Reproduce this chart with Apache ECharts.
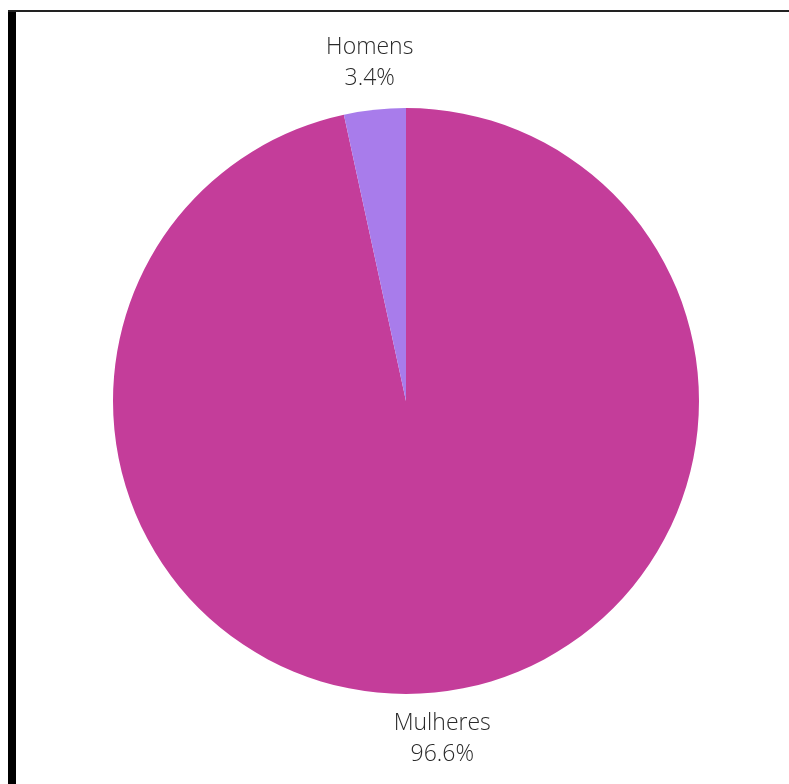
<!DOCTYPE html>
<html>
<head>
<meta charset="utf-8">
<script src="https://cdn.jsdelivr.net/npm/echarts@6/dist/echarts.min.js"></script>
<style>
  html, body { margin: 0; padding: 0; background: #fff; }
  #chart { width: 789px; height: 784px; }
</style>
</head>
<body>
<div id="chart"></div>
<script>
// Share of respondents by gender
const categories = ['Mulheres', 'Homens'];
const shares = [96.6, 3.4];
const colors = ['#C43D9A', '#A87CEB'];

const LABEL_GAP = 47; // distance of the label centre beyond the pie edge

const chart = echarts.init(document.getElementById('chart'));

// Centre each label on the ray through the middle of its slice.
function placeLabel(params) {
  const data = chart.getModel().getSeriesByIndex(0).getData();
  const lay = data.getItemLayout(params.dataIndex);
  const mid = (lay.startAngle + lay.endAngle) / 2;
  const rr = lay.r + LABEL_GAP;
  return {
    x: lay.cx + Math.cos(mid) * rr,
    y: lay.cy + Math.sin(mid) * rr,
    align: 'center',
    verticalAlign: 'middle'
  };
}

chart.setOption({
  animation: false,
  graphic: [
    // frame: dark bar on the left, thin rule on top
    { type: 'rect', shape: { x: 8, y: 11, width: 8, height: 780 }, style: { fill: '#000' } },
    { type: 'rect', shape: { x: 8, y: 10, width: 790, height: 2 }, style: { fill: '#222' } }
  ],
  series: [{
    type: 'pie',
    center: [406, 401],
    radius: 293,
    startAngle: 90,
    clockwise: true,
    data: categories.map((name, i) => ({
      name,
      value: shares[i],
      itemStyle: { color: colors[i] }
    })),
    label: {
      show: true,
      position: 'outside',
      formatter: p => p.name + '\n' + p.value.toFixed(1) + '%',
      fontFamily: 'Open Sans',
      fontWeight: 300,
      fontSize: 23,
      lineHeight: 31,
      color: '#2a2a2a'
    },
    labelLine: { show: false },
    labelLayout: placeLabel,
    emphasis: { disabled: true }
  }]
});
</script>
</body>
</html>
